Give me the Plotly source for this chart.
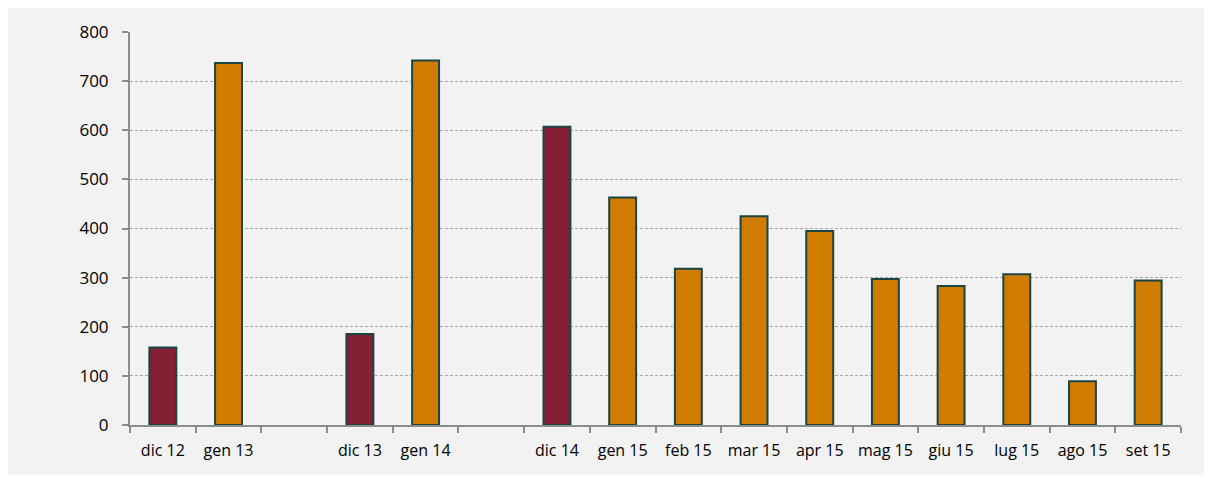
import plotly.graph_objects as go

categories = ["dic 12", "gen 13", " ", "dic 13", "gen 14", "  ", "dic 14", "gen 15",
              "feb 15", "mar 15", "apr 15", "mag 15", "giu 15", "lug 15", "ago 15", "set 15"]
values = [158, 737, None, 185, 742, None, 607, 463, 318, 425, 395, 297, 283, 307, 89, 294]
is_december = [True, False, False, True, False, False, True, False,
               False, False, False, False, False, False, False, False]
y_ticks = [0, 100, 200, 300, 400, 500, 600, 700, 800]

colors = ["#832034" if d else "#cf7c00" for d in is_december]

# page has an 8px body margin; figure sized to fit the 1212x483 window
W, H = 1196, 467
L, T = 122, 24
R = W - 1173
B = H - 417

fig = go.Figure()
fig.add_trace(go.Bar(
    x=categories, y=values,
    marker=dict(color=colors, line=dict(color="#1a4544", width=2)),
    hoverinfo="x+y",
))

fig.update_layout(
    width=W, height=H,
    margin=dict(l=L, r=R, t=T, b=B),
    paper_bgcolor="#f2f2f2",
    plot_bgcolor="#f2f2f2",
    bargap=0.59,
    showlegend=False,
    font=dict(family="Open Sans", size=17, color="#000000"),
    xaxis=dict(
        type="category",
        categoryorder="array", categoryarray=categories,
        tickson="boundaries",
        tickangle=0,
        ticks="outside", ticklen=6, tickcolor="#8c8c8c", tickwidth=1.5,
        showline=True, linecolor="#8c8c8c", linewidth=2,
        showgrid=False,
        tickfont=dict(size=16),
        ticklabelstandoff=10,
    ),
    yaxis=dict(
        range=[0, 800],
        tickvals=y_ticks,
        ticks="outside", ticklen=6, tickcolor="#8c8c8c", tickwidth=1.5,
        showline=True, linecolor="#8c8c8c", linewidth=2,
        showgrid=True, gridcolor="#a6a6a6", griddash="3px,2px", gridwidth=1,
        zeroline=False,
        tickfont=dict(size=17),
        ticklabelstandoff=10,
    ),
)

fig.write_html("out.html")
